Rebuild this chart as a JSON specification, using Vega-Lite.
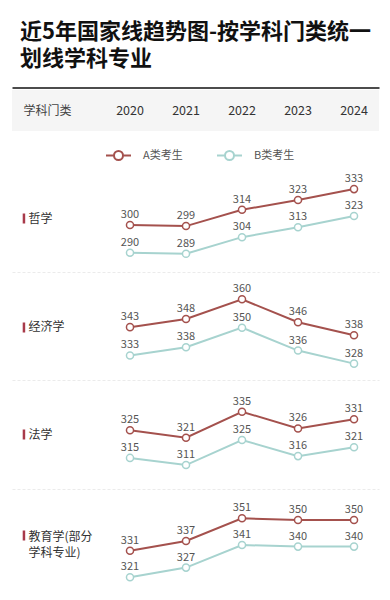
{
  "$schema": "https://vega.github.io/schema/vega-lite/v6.json",
  "padding": {"left": 12, "right": 11, "top": 20, "bottom": 0},
  "background": "white",
  "title": {"text": ["近5年国家线趋势图-按学科门类统一", "划线学科专业"], "anchor": "start", "dx": 8, "fontSize": 22, "fontWeight": "bold", "color": "#111111", "lineHeight": 27, "offset": 17, "font": "Noto Sans CJK SC"},
  "data": {"values": [
    {"subject": "哲学", "series": "A类考生", "year": 2020, "value": 300},
    {"subject": "哲学", "series": "A类考生", "year": 2021, "value": 299},
    {"subject": "哲学", "series": "A类考生", "year": 2022, "value": 314},
    {"subject": "哲学", "series": "A类考生", "year": 2023, "value": 323},
    {"subject": "哲学", "series": "A类考生", "year": 2024, "value": 333},
    {"subject": "哲学", "series": "B类考生", "year": 2020, "value": 290},
    {"subject": "哲学", "series": "B类考生", "year": 2021, "value": 289},
    {"subject": "哲学", "series": "B类考生", "year": 2022, "value": 304},
    {"subject": "哲学", "series": "B类考生", "year": 2023, "value": 313},
    {"subject": "哲学", "series": "B类考生", "year": 2024, "value": 323},
    {"subject": "经济学", "series": "A类考生", "year": 2020, "value": 343},
    {"subject": "经济学", "series": "A类考生", "year": 2021, "value": 348},
    {"subject": "经济学", "series": "A类考生", "year": 2022, "value": 360},
    {"subject": "经济学", "series": "A类考生", "year": 2023, "value": 346},
    {"subject": "经济学", "series": "A类考生", "year": 2024, "value": 338},
    {"subject": "经济学", "series": "B类考生", "year": 2020, "value": 333},
    {"subject": "经济学", "series": "B类考生", "year": 2021, "value": 338},
    {"subject": "经济学", "series": "B类考生", "year": 2022, "value": 350},
    {"subject": "经济学", "series": "B类考生", "year": 2023, "value": 336},
    {"subject": "经济学", "series": "B类考生", "year": 2024, "value": 328},
    {"subject": "法学", "series": "A类考生", "year": 2020, "value": 325},
    {"subject": "法学", "series": "A类考生", "year": 2021, "value": 321},
    {"subject": "法学", "series": "A类考生", "year": 2022, "value": 335},
    {"subject": "法学", "series": "A类考生", "year": 2023, "value": 326},
    {"subject": "法学", "series": "A类考生", "year": 2024, "value": 331},
    {"subject": "法学", "series": "B类考生", "year": 2020, "value": 315},
    {"subject": "法学", "series": "B类考生", "year": 2021, "value": 311},
    {"subject": "法学", "series": "B类考生", "year": 2022, "value": 325},
    {"subject": "法学", "series": "B类考生", "year": 2023, "value": 316},
    {"subject": "法学", "series": "B类考生", "year": 2024, "value": 321},
    {"subject": "教育学(部分学科专业)", "series": "A类考生", "year": 2020, "value": 331},
    {"subject": "教育学(部分学科专业)", "series": "A类考生", "year": 2021, "value": 337},
    {"subject": "教育学(部分学科专业)", "series": "A类考生", "year": 2022, "value": 351},
    {"subject": "教育学(部分学科专业)", "series": "A类考生", "year": 2023, "value": 350},
    {"subject": "教育学(部分学科专业)", "series": "A类考生", "year": 2024, "value": 350},
    {"subject": "教育学(部分学科专业)", "series": "B类考生", "year": 2020, "value": 321},
    {"subject": "教育学(部分学科专业)", "series": "B类考生", "year": 2021, "value": 327},
    {"subject": "教育学(部分学科专业)", "series": "B类考生", "year": 2022, "value": 341},
    {"subject": "教育学(部分学科专业)", "series": "B类考生", "year": 2023, "value": 340},
    {"subject": "教育学(部分学科专业)", "series": "B类考生", "year": 2024, "value": 340}
  ]},
  "spacing": 0,
  "resolve": {"scale": {"x": "independent", "y": "independent"}, "legend": {"stroke": "independent"}},
  "vconcat": [
    {
      "width": 367, "height": 41,
      "view": {"fill": "#f5f5f5", "stroke": null},
      "transform": [{"filter": "datum.subject === '哲学' && datum.series === 'A类考生'"}],
      "mark": {"type": "text", "fontSize": 12.5, "color": "#333333"},
      "encoding": {
        "x": {"field": "year", "type": "quantitative", "scale": {"domain": [2017.893, 2024.446], "nice": false, "zero": false},
              "axis": {"orient": "top", "labels": false, "ticks": false, "grid": false, "domain": true, "domainColor": "#111111", "domainWidth": 1.5, "offset": 2.5, "title": null}},
        "y": {"datum": "学科门类", "type": "nominal",
              "axis": {"orient": "left", "offset": -11, "ticks": false, "tickSize": 0, "domain": false, "grid": false, "labelAlign": "left", "labelPadding": 0, "labelFontSize": 12, "labelColor": "#444444", "title": null}},
        "text": {"field": "year", "type": "ordinal"}
      }
    },
    {
      "width": 367, "height": 141,
      "transform": [{"filter": "datum.subject === '哲学'"}],
      "encoding": {"x": {"field": "year", "type": "quantitative", "scale": {"domain": [2017.893, 2024.446], "nice": false, "zero": false},
        "axis": {"orient": "bottom", "labels": false, "ticks": false, "grid": false, "domain": true, "domainColor": "#ebebeb", "domainDash": [3, 2], "title": null}}},
      "resolve": {"scale": {"y": "independent"}},
      "layer": [
        {
          "transform": [{"filter": "datum.series === 'A类考生'"}],
          "encoding": {"y": {"field": "value", "type": "quantitative", "scale": {"domain": [256.8, 386.4], "nice": false, "zero": false},
            "axis": {"orient": "left", "offset": -12.7, "values": [306.4], "labelExpr": "'哲学'", "ticks": true, "tickSize": 2.5, "tickWidth": 10, "tickColor": "#a83a4a", "domain": false, "grid": false, "labelAlign": "left", "labelPadding": -5.8, "labelFontSize": 12, "labelColor": "#333333", "title": null}}},
          "layer": [
            {"mark": {"type": "line", "strokeWidth": 2}, "encoding": {"stroke": {"field": "series", "type": "nominal", "scale": {"domain": ["A类考生", "B类考生"], "range": ["#a4514d", "#a7d3cf"]},
              "legend": {"orient": "none", "legendX": 93, "legendY": 11, "direction": "horizontal", "title": null, "symbolType": "M-1,0H-0.36M0.36,0H1M0.36,0A0.36,0.36,0,1,1,-0.36,0A0.36,0.36,0,1,1,0.36,0Z", "symbolSize": 625, "symbolStrokeWidth": 2, "symbolFillColor": "white", "labelFontSize": 11, "labelColor": "#555555", "labelOffset": 11, "columnPadding": 30}}}},
            {"mark": {"type": "point", "filled": true, "fill": "white", "size": 50, "strokeWidth": 1.5, "opacity": 1}, "encoding": {"stroke": {"field": "series", "type": "nominal"}}},
            {"mark": {"type": "text", "dy": -10, "fontSize": 11, "color": "#555555"}, "encoding": {"text": {"field": "value", "type": "quantitative"}}}
          ]
        },
        {
          "transform": [{"filter": "datum.series === 'B类考生'"}],
          "encoding": {"y": {"field": "value", "type": "quantitative", "scale": {"domain": [272.6, 399.7], "nice": false, "zero": false}, "axis": null}},
          "layer": [
            {"mark": {"type": "line", "strokeWidth": 2}, "encoding": {"stroke": {"field": "series", "type": "nominal"}}},
            {"mark": {"type": "point", "filled": true, "fill": "white", "size": 50, "strokeWidth": 1.5, "opacity": 1}, "encoding": {"stroke": {"field": "series", "type": "nominal"}}},
            {"mark": {"type": "text", "dy": -10, "fontSize": 11, "color": "#555555"}, "encoding": {"text": {"field": "value", "type": "quantitative"}}}
          ]
        }
      ]
    },
    {
      "width": 367, "height": 108,
      "transform": [{"filter": "datum.subject === '经济学'"}],
      "encoding": {"x": {"field": "year", "type": "quantitative", "scale": {"domain": [2017.893, 2024.446], "nice": false, "zero": false},
        "axis": {"orient": "bottom", "labels": false, "ticks": false, "grid": false, "domain": true, "domainColor": "#ebebeb", "domainDash": [3, 2], "title": null}}},
      "resolve": {"scale": {"y": "independent"}},
      "layer": [
        {
          "transform": [{"filter": "datum.series === 'A类考生'"}],
          "encoding": {"y": {"field": "value", "type": "quantitative", "scale": {"domain": [310.7, 376.7], "nice": false, "zero": false},
            "axis": {"orient": "left", "offset": -12.7, "values": [343.1], "labelExpr": "'经济学'", "ticks": true, "tickSize": 2.5, "tickWidth": 10, "tickColor": "#a83a4a", "domain": false, "grid": false, "labelAlign": "left", "labelPadding": -5.8, "labelFontSize": 12, "labelColor": "#333333", "title": null}}},
          "layer": [
            {"mark": {"type": "line", "strokeWidth": 2}, "encoding": {"stroke": {"field": "series", "type": "nominal", "scale": {"domain": ["A类考生", "B类考生"], "range": ["#a4514d", "#a7d3cf"]}, "legend": null}}},
            {"mark": {"type": "point", "filled": true, "fill": "white", "size": 50, "strokeWidth": 1.5, "opacity": 1}, "encoding": {"stroke": {"field": "series", "type": "nominal", "legend": null}}},
            {"mark": {"type": "text", "dy": -10, "fontSize": 11, "color": "#555555"}, "encoding": {"text": {"field": "value", "type": "quantitative"}}}
          ]
        },
        {
          "transform": [{"filter": "datum.series === 'B类考生'"}],
          "encoding": {"y": {"field": "value", "type": "quantitative", "scale": {"domain": [318.0, 384.05], "nice": false, "zero": false}, "axis": null}},
          "layer": [
            {"mark": {"type": "line", "strokeWidth": 2}, "encoding": {"stroke": {"field": "series", "type": "nominal", "legend": null}}},
            {"mark": {"type": "point", "filled": true, "fill": "white", "size": 50, "strokeWidth": 1.5, "opacity": 1}, "encoding": {"stroke": {"field": "series", "type": "nominal", "legend": null}}},
            {"mark": {"type": "text", "dy": -10, "fontSize": 11, "color": "#555555"}, "encoding": {"text": {"field": "value", "type": "quantitative"}}}
          ]
        }
      ]
    },
    {
      "width": 367, "height": 109,
      "transform": [{"filter": "datum.subject === '法学'"}],
      "encoding": {"x": {"field": "year", "type": "quantitative", "scale": {"domain": [2017.893, 2024.446], "nice": false, "zero": false},
        "axis": {"orient": "bottom", "labels": false, "ticks": false, "grid": false, "domain": true, "domainColor": "#ebebeb", "domainDash": [3, 2], "title": null}}},
      "resolve": {"scale": {"y": "independent"}},
      "layer": [
        {
          "transform": [{"filter": "datum.series === 'A类考生'"}],
          "encoding": {"y": {"field": "value", "type": "quantitative", "scale": {"domain": [293.4, 352.1], "nice": false, "zero": false},
            "axis": {"orient": "left", "offset": -12.7, "values": [323.0], "labelExpr": "'法学'", "ticks": true, "tickSize": 2.5, "tickWidth": 10, "tickColor": "#a83a4a", "domain": false, "grid": false, "labelAlign": "left", "labelPadding": -5.8, "labelFontSize": 12, "labelColor": "#333333", "title": null}}},
          "layer": [
            {"mark": {"type": "line", "strokeWidth": 2}, "encoding": {"stroke": {"field": "series", "type": "nominal", "scale": {"domain": ["A类考生", "B类考生"], "range": ["#a4514d", "#a7d3cf"]}, "legend": null}}},
            {"mark": {"type": "point", "filled": true, "fill": "white", "size": 50, "strokeWidth": 1.5, "opacity": 1}, "encoding": {"stroke": {"field": "series", "type": "nominal", "legend": null}}},
            {"mark": {"type": "text", "dy": -10, "fontSize": 11, "color": "#555555"}, "encoding": {"text": {"field": "value", "type": "quantitative"}}}
          ]
        },
        {
          "transform": [{"filter": "datum.series === 'B类考生'"}],
          "encoding": {"y": {"field": "value", "type": "quantitative", "scale": {"domain": [297.6, 358.6], "nice": false, "zero": false}, "axis": null}},
          "layer": [
            {"mark": {"type": "line", "strokeWidth": 2}, "encoding": {"stroke": {"field": "series", "type": "nominal", "legend": null}}},
            {"mark": {"type": "point", "filled": true, "fill": "white", "size": 50, "strokeWidth": 1.5, "opacity": 1}, "encoding": {"stroke": {"field": "series", "type": "nominal", "legend": null}}},
            {"mark": {"type": "text", "dy": -10, "fontSize": 11, "color": "#555555"}, "encoding": {"text": {"field": "value", "type": "quantitative"}}}
          ]
        }
      ]
    },
    {
      "width": 367, "height": 107,
      "transform": [{"filter": "datum.subject === '教育学(部分学科专业)'"}],
      "encoding": {"x": {"field": "year", "type": "quantitative", "scale": {"domain": [2017.893, 2024.446], "nice": false, "zero": false},
        "axis": {"orient": "bottom", "labels": false, "ticks": false, "grid": false, "domain": true, "domainColor": "#ebebeb", "domainDash": [3, 2], "title": null}}},
      "resolve": {"scale": {"y": "independent"}},
      "layer": [
        {
          "transform": [{"filter": "datum.series === 'A类考生'"}],
          "encoding": {"y": {"field": "value", "type": "quantitative", "scale": {"domain": [303.0, 369.1], "nice": false, "zero": false},
            "axis": {"orient": "left", "offset": -12.7, "values": [340.7], "labelExpr": "['教育学(部分', '学科专业)']", "labelLineHeight": 16, "labelOffset": 2, "ticks": true, "tickSize": 2.5, "tickWidth": 10, "tickColor": "#a83a4a", "domain": false, "grid": false, "labelAlign": "left", "labelPadding": -5.8, "labelFontSize": 12, "labelColor": "#333333", "title": null}}},
          "layer": [
            {"mark": {"type": "line", "strokeWidth": 2}, "encoding": {"stroke": {"field": "series", "type": "nominal", "scale": {"domain": ["A类考生", "B类考生"], "range": ["#a4514d", "#a7d3cf"]}, "legend": null}}},
            {"mark": {"type": "point", "filled": true, "fill": "white", "size": 50, "strokeWidth": 1.5, "opacity": 1}, "encoding": {"stroke": {"field": "series", "type": "nominal", "legend": null}}},
            {"mark": {"type": "text", "dy": -10, "fontSize": 11, "color": "#555555"}, "encoding": {"text": {"field": "value", "type": "quantitative"}}}
          ]
        },
        {
          "transform": [{"filter": "datum.series === 'B类考生'"}],
          "encoding": {"y": {"field": "value", "type": "quantitative", "scale": {"domain": [309.4, 375.7], "nice": false, "zero": false}, "axis": null}},
          "layer": [
            {"mark": {"type": "line", "strokeWidth": 2}, "encoding": {"stroke": {"field": "series", "type": "nominal", "legend": null}}},
            {"mark": {"type": "point", "filled": true, "fill": "white", "size": 50, "strokeWidth": 1.5, "opacity": 1}, "encoding": {"stroke": {"field": "series", "type": "nominal", "legend": null}}},
            {"mark": {"type": "text", "dy": -10, "fontSize": 11, "color": "#555555"}, "encoding": {"text": {"field": "value", "type": "quantitative"}}}
          ]
        }
      ]
    }
  ],
  "config": {
    "font": "Noto Sans CJK SC",
    "view": {"stroke": null},
    "axis": {"labelFont": "Noto Sans CJK SC"},
    "legend": {"labelFont": "Noto Sans CJK SC"}
  }
}
